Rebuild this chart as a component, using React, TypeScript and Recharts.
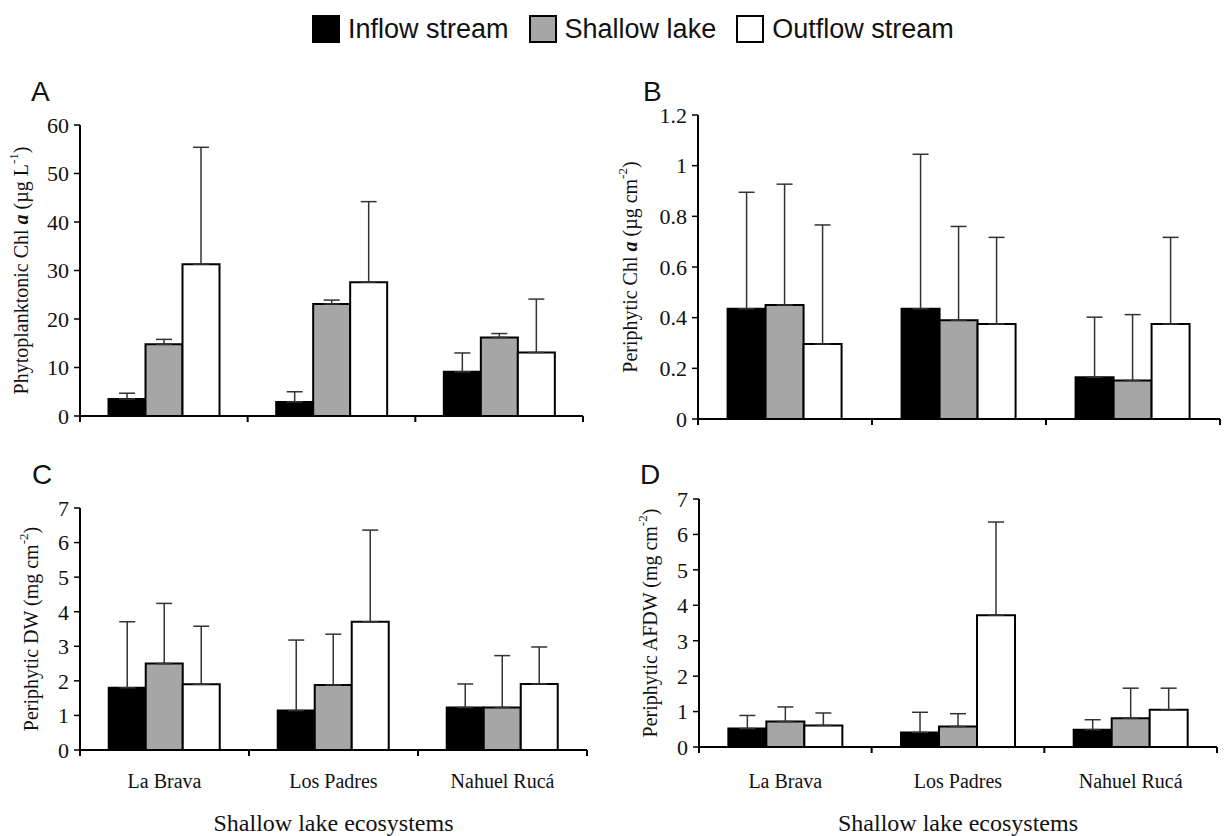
import React from "react";
import { BarChart, Bar, XAxis, YAxis, ErrorBar } from "recharts";

const SERIF = '"Liberation Serif", "Times New Roman", serif';
const SANS = '"Liberation Sans", Arial, sans-serif';

const sites = ["La Brava", "Los Padres", "Nahuel Rucá"];

// A - phytoplanktonic Chl a (µg L-1), mean and SD
const phytoInflow = [3.5, 2.9, 9.1];
const phytoInflowSd = [1.2, 2.1, 3.9];
const phytoLake = [14.8, 23.1, 16.2];
const phytoLakeSd = [1.0, 0.8, 0.8];
const phytoOutflow = [31.3, 27.6, 13.1];
const phytoOutflowSd = [24.1, 16.6, 11.0];

// B - periphytic Chl a (µg cm-2)
const periChlInflow = [0.435, 0.435, 0.165];
const periChlInflowSd = [0.46, 0.61, 0.237];
const periChlLake = [0.45, 0.39, 0.152];
const periChlLakeSd = [0.477, 0.37, 0.26];
const periChlOutflow = [0.296, 0.375, 0.375];
const periChlOutflowSd = [0.47, 0.342, 0.342];

// C - periphytic DW (mg cm-2)
const dwInflow = [1.8, 1.14, 1.23];
const dwInflowSd = [1.91, 2.04, 0.68];
const dwLake = [2.5, 1.88, 1.23];
const dwLakeSd = [1.74, 1.47, 1.5];
const dwOutflow = [1.9, 3.71, 1.91];
const dwOutflowSd = [1.68, 2.65, 1.07];

// D - periphytic AFDW (mg cm-2)
const afdwInflow = [0.52, 0.41, 0.49];
const afdwInflowSd = [0.37, 0.57, 0.28];
const afdwLake = [0.72, 0.58, 0.81];
const afdwLakeSd = [0.41, 0.36, 0.85];
const afdwOutflow = [0.61, 3.72, 1.05];
const afdwOutflowSd = [0.35, 2.63, 0.61];

const ticksA = [0, 10, 20, 30, 40, 50, 60];
const ticksB = [0, 0.2, 0.4, 0.6, 0.8, 1, 1.2];
const ticksCD = [0, 1, 2, 3, 4, 5, 6, 7];

const SERIES = [
  { key: "inflow", name: "Inflow stream", fill: "#000000" },
  { key: "lake", name: "Shallow lake", fill: "#a6a6a6" },
  { key: "outflow", name: "Outflow stream", fill: "#ffffff" },
];

function buildRows(
  inflow: number[], inflowSd: number[],
  lake: number[], lakeSd: number[],
  outflow: number[], outflowSd: number[]
) {
  return sites.map((site, i) => ({
    site,
    inflow: inflow[i],
    inflowErr: [0, inflowSd[i]],
    lake: lake[i],
    lakeErr: [0, lakeSd[i]],
    outflow: outflow[i],
    outflowErr: [0, outflowSd[i]],
  }));
}

function SiteTick(props: any) {
  const { x, y, payload, index, visibleTicksCount, half, showLabel, labelDy } = props;
  const last = index === visibleTicksCount - 1;
  return (
    <g>
      <line x1={x - half} x2={x - half} y1={y} y2={y + 6} stroke="#000" strokeWidth={2} />
      {last && <line x1={x + half} x2={x + half} y1={y} y2={y + 6} stroke="#000" strokeWidth={2} />}
      {showLabel && (
        <text x={x} y={y + labelDy} textAnchor="middle" fontFamily={SERIF} fontSize={20} fill="#111">
          {payload.value}
        </text>
      )}
    </g>
  );
}

function YTitle({ viewBox, tx, children }: any) {
  const cy = viewBox.y + viewBox.height / 2;
  return (
    <text
      x={tx}
      y={cy}
      transform={`rotate(-90, ${tx}, ${cy})`}
      textAnchor="middle"
      dominantBaseline="central"
      fontFamily={SERIF}
      fontSize={20}
      fill="#111"
    >
      {children}
    </text>
  );
}

function XTitle({ viewBox, ty, text }: any) {
  return (
    <text x={viewBox.x + viewBox.width / 2} y={ty} textAnchor="middle" fontFamily={SERIF} fontSize={24} fill="#111">
      {text}
    </text>
  );
}

type PanelProps = {
  box: { left: number; top: number; width: number; height: number };
  plot: { x0: number; x1: number; y0: number; y1: number };
  rows: any[];
  yMax: number;
  yTicks: number[];
  yTitle: React.ReactNode;
  yTitleX: number;
  siteY?: number;
  xTitleY?: number;
};

function Panel(p: PanelProps) {
  const { box, plot } = p;
  const margin = { top: plot.y0 - box.top, right: box.left + box.width - plot.x1, bottom: 0, left: 10 };
  const yAxisWidth = plot.x0 - box.left - 10;
  const xAxisHeight = box.top + box.height - plot.y1;
  const half = (plot.x1 - plot.x0) / sites.length / 2;
  return (
    <div style={{ position: "absolute", left: box.left, top: box.top }}>
      <BarChart
        width={box.width}
        height={box.height}
        data={p.rows}
        margin={margin}
        barCategoryGap="17%"
        barGap={0}
      >
        <XAxis
          dataKey="site"
          height={xAxisHeight}
          interval={0}
          axisLine={{ stroke: "#000", strokeWidth: 2 }}
          tickLine={false}
          tickSize={0}
          tickMargin={0}
          tick={
            <SiteTick
              half={half}
              showLabel={p.siteY !== undefined}
              labelDy={(p.siteY ?? 0) - plot.y1}
            />
          }
          label={p.xTitleY ? <XTitle ty={p.xTitleY - box.top} text="Shallow lake ecosystems" /> : undefined}
        />
        <YAxis
          width={yAxisWidth}
          domain={[0, p.yMax]}
          ticks={p.yTicks}
          interval={0}
          axisLine={{ stroke: "#000", strokeWidth: 2 }}
          tickLine={{ stroke: "#000", strokeWidth: 1.5 }}
          tickSize={6}
          tickMargin={5}
          tick={{ fill: "#111", fontSize: 22, fontFamily: SERIF }}
          label={<YTitle tx={p.yTitleX - box.left}>{p.yTitle}</YTitle>}
        />
        {SERIES.map((s) => (
          <Bar
            key={s.key}
            dataKey={s.key}
            name={s.name}
            fill={s.fill}
            stroke="#000"
            strokeWidth={2}
            isAnimationActive={false}
          >
            <ErrorBar dataKey={s.key + "Err"} direction="y" width={8} stroke="#333" strokeWidth={1.5} />
          </Bar>
        ))}
      </BarChart>
    </div>
  );
}

const sup = (t: string) => (
  <>
    <tspan dy={-8} fontSize={13}>{t}</tspan>
    <tspan dy={8}>)</tspan>
  </>
);

export default function App() {
  const rowsA = buildRows(phytoInflow, phytoInflowSd, phytoLake, phytoLakeSd, phytoOutflow, phytoOutflowSd);
  const rowsB = buildRows(periChlInflow, periChlInflowSd, periChlLake, periChlLakeSd, periChlOutflow, periChlOutflowSd);
  const rowsC = buildRows(dwInflow, dwInflowSd, dwLake, dwLakeSd, dwOutflow, dwOutflowSd);
  const rowsD = buildRows(afdwInflow, afdwInflowSd, afdwLake, afdwLakeSd, afdwOutflow, afdwOutflowSd);

  return (
    <div style={{ position: "absolute", left: 0, top: 0, width: 1226, height: 836, background: "#fff" }}>
      <div
        style={{
          position: "absolute",
          left: 312,
          top: 14,
          display: "flex",
          alignItems: "center",
          fontFamily: SANS,
          fontSize: 27,
          color: "#111",
          lineHeight: "30px",
          whiteSpace: "nowrap",
        }}
      >
        {SERIES.map((s) => (
          <div key={s.key} style={{ display: "flex", alignItems: "center", marginRight: 20 }}>
            <span style={{ width: 24, height: 24, background: s.fill, border: "2px solid #000", marginRight: 8 }} />
            <span>{s.name}</span>
          </div>
        ))}
      </div>

      <svg width={1226} height={836} style={{ position: "absolute", left: 0, top: 0 }}>
        <g fontFamily={SANS} fontSize={28} fill="#111">
          <text x={31} y={101}>A</text>
          <text x={643} y={101}>B</text>
          <text x={32} y={484}>C</text>
          <text x={640} y={484}>D</text>
        </g>
      </svg>

      <Panel
        box={{ left: 0, top: 60, width: 600, height: 380 }}
        plot={{ x0: 80, x1: 583, y0: 125, y1: 416 }}
        rows={rowsA}
        yMax={60}
        yTicks={ticksA}
        yTitleX={21}
        yTitle={
          <>
            Phytoplanktonic Chl <tspan fontWeight="bold" fontStyle="italic">a</tspan> (µg L{sup("-1")}
          </>
        }
      />
      <Panel
        box={{ left: 600, top: 60, width: 626, height: 380 }}
        plot={{ x0: 698, x1: 1220, y0: 115, y1: 419 }}
        rows={rowsB}
        yMax={1.2}
        yTicks={ticksB}
        yTitleX={630}
        yTitle={
          <>
            Periphytic Chl <tspan fontWeight="bold" fontStyle="italic">a</tspan> (µg cm{sup("-2")}
          </>
        }
      />
      <Panel
        box={{ left: 0, top: 440, width: 600, height: 396 }}
        plot={{ x0: 80, x1: 587, y0: 508, y1: 750 }}
        rows={rowsC}
        yMax={7}
        yTicks={ticksCD}
        yTitleX={31}
        siteY={788}
        xTitleY={831}
        yTitle={<>Periphytic DW (mg cm{sup("-2")}</>}
      />
      <Panel
        box={{ left: 600, top: 440, width: 626, height: 396 }}
        plot={{ x0: 699, x1: 1217, y0: 499, y1: 747 }}
        rows={rowsD}
        yMax={7}
        yTicks={ticksCD}
        yTitleX={650}
        siteY={788}
        xTitleY={831}
        yTitle={<>Periphytic AFDW (mg cm{sup("-2")}</>}
      />
    </div>
  );
}
